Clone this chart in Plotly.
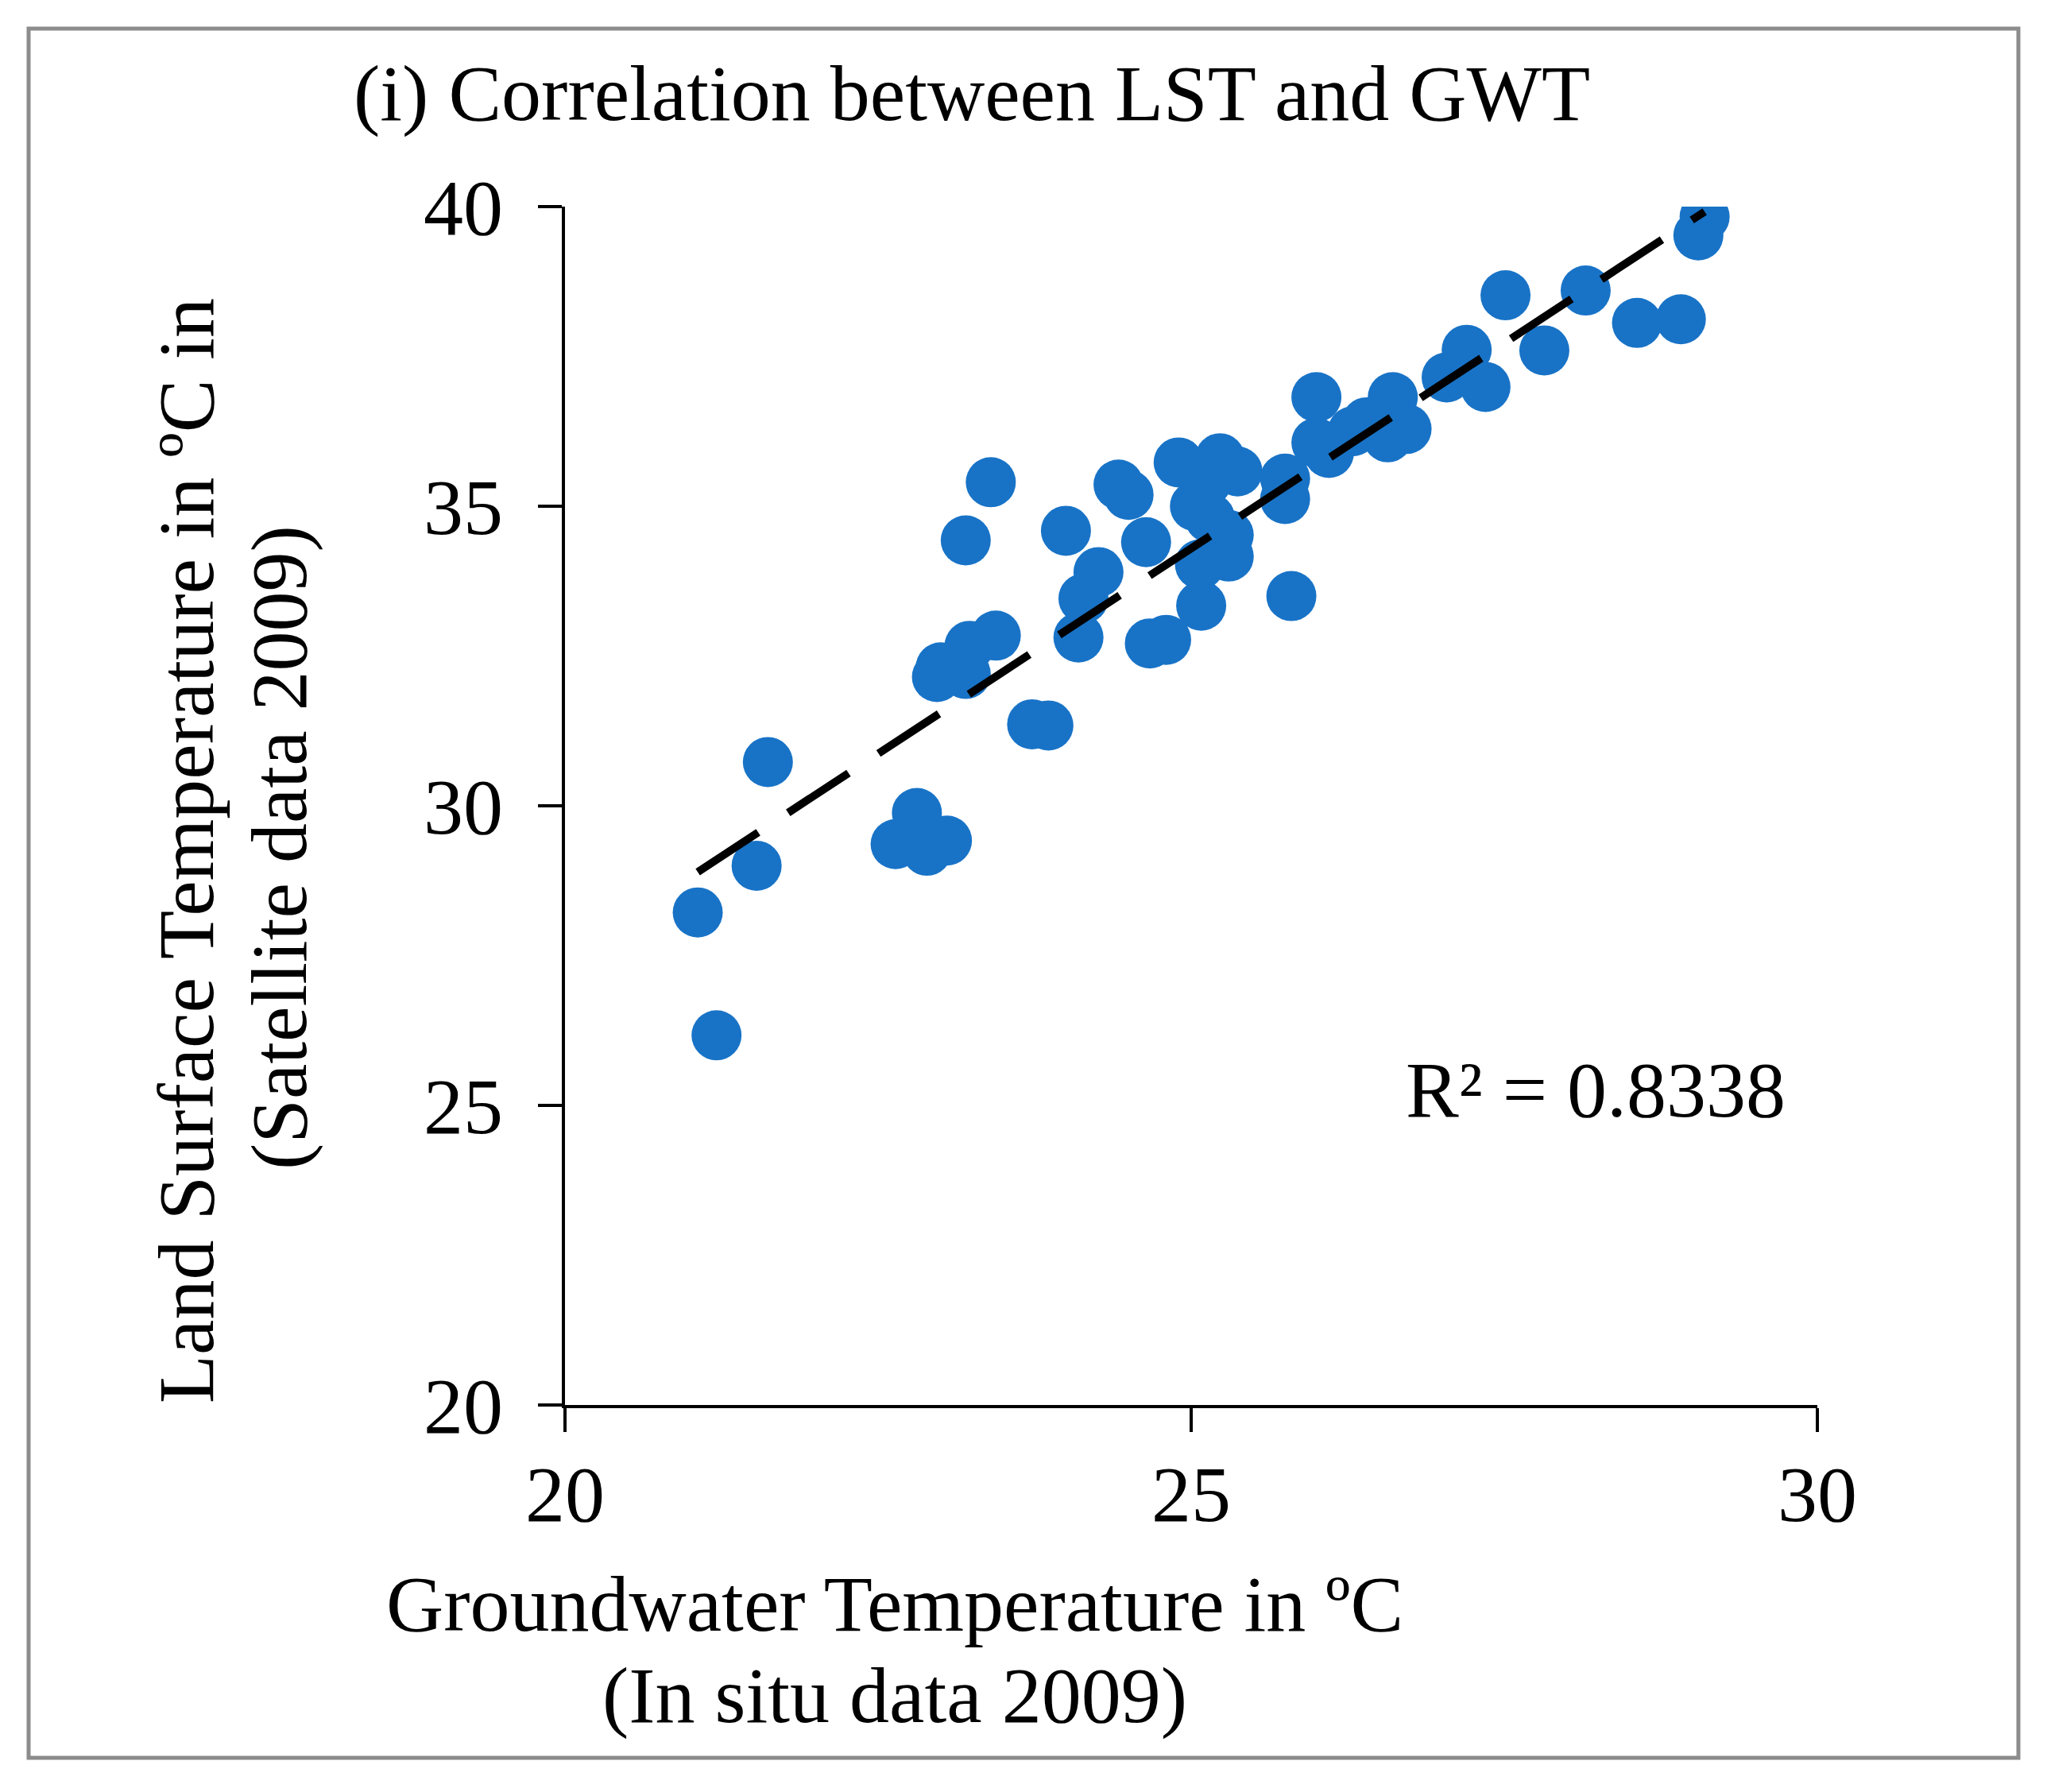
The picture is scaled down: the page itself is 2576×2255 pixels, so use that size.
import numpy as np
import plotly.graph_objects as go

# Groundwater temperature (in situ) vs land surface temperature (satellite), 2009
gwt = [21.06, 21.21, 21.53, 21.62, 22.64, 22.81, 22.89, 23.05, 22.97, 23.00,
       23.20, 23.23, 23.44, 23.20, 23.40, 23.73, 23.86, 24.00, 24.10, 24.14,
       24.26, 24.42, 24.50, 24.64, 24.67, 24.80, 24.90, 25.03, 25.23, 25.37,
       25.30, 25.30, 25.07, 25.08, 25.12, 25.15, 25.75, 25.75, 25.80, 26.00,
       26.00, 26.10, 26.29, 26.40, 26.57, 26.61, 26.72, 27.04, 27.20, 27.35,
       27.51, 27.82, 28.15, 28.56, 28.91, 29.05, 29.10]
lst = [28.22, 26.17, 29.00, 30.73, 29.36, 29.88, 29.25, 29.42, 32.15, 32.31,
       32.20, 32.67, 32.84, 34.43, 35.40, 31.36, 31.34, 34.59, 32.81, 33.46,
       33.90, 35.36, 35.19, 34.40, 32.71, 32.77, 35.73, 35.00, 35.80, 35.58,
       34.52, 34.16, 34.03, 33.34, 35.40, 34.80, 35.46, 35.12, 33.50, 36.82,
       36.06, 35.89, 36.25, 36.40, 36.15, 36.82, 36.29, 37.15, 37.61, 36.99,
       38.52, 37.60, 38.60, 38.06, 38.12, 39.52, 39.83]

x_ticks = [20, 25, 30]
y_ticks = [20, 25, 30, 35, 40]
r2_label = "R² = 0.8338"

# linear trendline over the data range
slope, intercept = np.polyfit(gwt, lst, 1)
trend_x = [min(gwt), max(gwt)]
trend_y = [slope * v + intercept for v in trend_x]

# page body adds an 8px margin, so work in screen pixels minus that
OFF = 8
W, H = 2576 - OFF, 2255 - OFF
L, R, T, B = 711 - OFF, 2287 - OFF, 260 - OFF, 1768 - OFF   # plot area


def px(x):
    return (x - OFF - L) / (R - L)


def py(y):
    return (B - (y - OFF)) / (B - T)


FONT = "Liberation Serif, Times New Roman, serif"

fig = go.Figure()
fig.add_trace(go.Scatter(x=gwt, y=lst, mode="markers",
                         marker=dict(size=63, color="#1873c7", line=dict(width=0)),
                         showlegend=False, hoverinfo="x+y"))
fig.add_trace(go.Scatter(x=trend_x, y=trend_y, mode="lines",
                         line=dict(color="black", width=10, dash="91px,45px"),
                         showlegend=False, hoverinfo="skip"))

axis_common = dict(showgrid=False, zeroline=False, showline=True,
                   linecolor="black", linewidth=4,
                   ticks="outside", ticklen=30, tickwidth=4, tickcolor="black",
                   tickfont=dict(family=FONT, size=100, color="black"))

fig.update_xaxes(range=[20, 30], tickvals=x_ticks, ticklabelstandoff=-8, **axis_common)
fig.update_yaxes(range=[20, 40], tickvals=y_ticks, ticklabelstandoff=24, **axis_common)

txt = dict(family=FONT, size=100, color="black")
annots = [
    dict(text="(i) Correlation between LST and GWT", x=px(443), y=py(118),
         xanchor="left", yanchor="middle"),
    dict(text="Groundwater Temperature in ºC", x=px(1126), y=py(2018),
         xanchor="center", yanchor="middle"),
    dict(text="(In situ data 2009)", x=px(1126), y=py(2133),
         xanchor="center", yanchor="middle"),
    dict(text="Land Surface Temperature in ºC in", x=px(234), y=py(1071),
         xanchor="center", yanchor="middle", textangle=-90),
    dict(text="(Satellite data 2009)", x=px(351), y=py(1067),
         xanchor="center", yanchor="middle", textangle=-90),
    dict(text=r2_label, x=px(2008), y=py(1371),
         xanchor="center", yanchor="middle"),
]
for a in annots:
    fig.add_annotation(xref="paper", yref="paper", showarrow=False,
                       font=txt, **a)

# grey outer frame
fig.add_shape(type="rect", xref="paper", yref="paper",
              x0=px(36), x1=px(2540), y0=py(2212), y1=py(36),
              line=dict(color="#8c8c8c", width=5), fillcolor="rgba(0,0,0,0)")

fig.update_layout(width=W, height=H,
                  margin=dict(l=L, r=W - R, t=T, b=H - B),
                  paper_bgcolor="white", plot_bgcolor="white",
                  font=dict(family=FONT, color="black"))

fig.write_html("out.html")
